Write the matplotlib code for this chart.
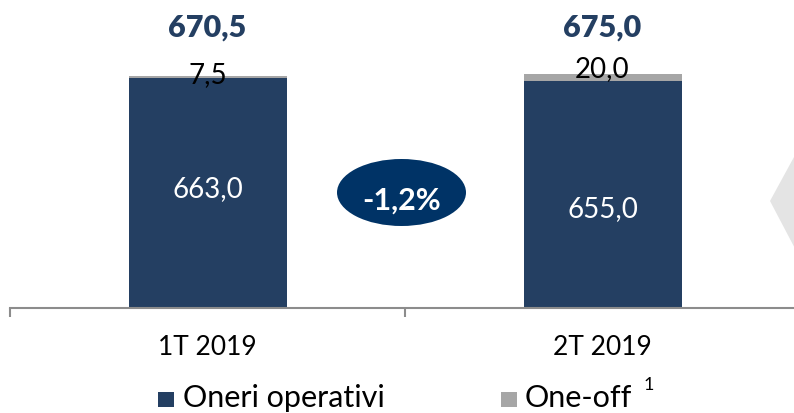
import matplotlib.pyplot as plt
from matplotlib.patches import Ellipse, Polygon, Rectangle
from matplotlib.transforms import blended_transform_factory

# dati
periodi = ["1T 2019", "2T 2019"]
oneri_operativi = [663.0, 655.0]
one_off = [7.5, 20.0]
totali = [670.5, 675.0]
variazione = "-1,2%"

navy = "#243F62"
grigio = "#A6A6A6"

def fmt(v):
    return f"{v:.1f}".replace(".", ",")

plt.rcParams['font.family'] = ['Lato', 'DejaVu Sans']

fig = plt.figure(figsize=(7.94, 4.13), dpi=100)
# asse che va leggermente oltre il bordo destro come nell'originale
ax = fig.add_axes([10 / 794, 105.5 / 413, 790 / 794, 307.5 / 413])

x = range(len(periodi))
ax.bar(x, oneri_operativi, width=0.4, color=navy)
ax.bar(x, one_off, width=0.4, bottom=oneri_operativi, color=grigio)

ax.set_xlim(-0.5, 1.5)
ax.set_ylim(0, 889)

# etichette valori (posizioni in unità dati)
y_tot = [782, 782]
y_off = [649, 666]
y_in = [319, 262]
for i in x:
    ax.text(i, y_tot[i], fmt(totali[i]), ha='center', va='baseline',
            fontsize=22, fontweight='heavy', color=navy)
    ax.text(i, y_off[i], fmt(one_off[i]), ha='center', va='baseline',
            fontsize=20, color='black')
    ax.text(i, y_in[i], fmt(oneri_operativi[i]), ha='center', va='baseline',
            fontsize=20, color='white')

# assi
for s in ['top', 'right', 'left']:
    ax.spines[s].set_visible(False)
ax.spines['bottom'].set_color('#8C8C8C')
ax.spines['bottom'].set_linewidth(1.5)
ax.set_yticks([])
ax.set_xticks([])
ax.set_xticks([-0.5, 0.5, 1.5], minor=True)
ax.tick_params(axis='x', which='minor', length=6.5, width=1.5, color='#8C8C8C',
               labelbottom=False)

tr = blended_transform_factory(ax.transData, fig.transFigure)
for i in x:
    ax.text(i, 58 / 413, periodi[i], transform=tr, ha='center', va='baseline',
            fontsize=19, color='black')

# ellisse con variazione
fig.add_artist(Ellipse((401.5 / 794, (413 - 192.5) / 413), 129 / 794, 67 / 413,
                       transform=fig.transFigure, facecolor='#003366',
                       edgecolor='none'))
fig.text(401.5 / 794, (413 - 210) / 413, variazione, ha='center', va='baseline',
         fontsize=22, fontweight='bold', color='white')

# freccia grigia a destra (tagliata)
fig.add_artist(Polygon([(770 / 794, (413 - 201) / 413), (800 / 794, (413 - 146) / 413),
                        (800 / 794, (413 - 258) / 413)], closed=True,
                       transform=fig.transFigure, facecolor='#E4E4E4',
                       edgecolor='none'))

# legenda manuale
fig.add_artist(Rectangle((158 / 794, (413 - 407) / 413), 16 / 794, 15 / 413,
                         transform=fig.transFigure, facecolor=navy, edgecolor='none'))
fig.text(183 / 794, 6 / 413, "Oneri operativi", ha='left', va='baseline',
         fontsize=22, color='black')
fig.add_artist(Rectangle((501 / 794, (413 - 407) / 413), 16 / 794, 15 / 413,
                         transform=fig.transFigure, facecolor=grigio, edgecolor='none'))
fig.text(525 / 794, 6 / 413, "One-off", ha='left', va='baseline',
         fontsize=22, color='black')
fig.text(644 / 794, (413 - 390) / 413, "1", ha='left', va='baseline',
         fontsize=13, color='black')

fig.savefig("out.png", dpi=100)
